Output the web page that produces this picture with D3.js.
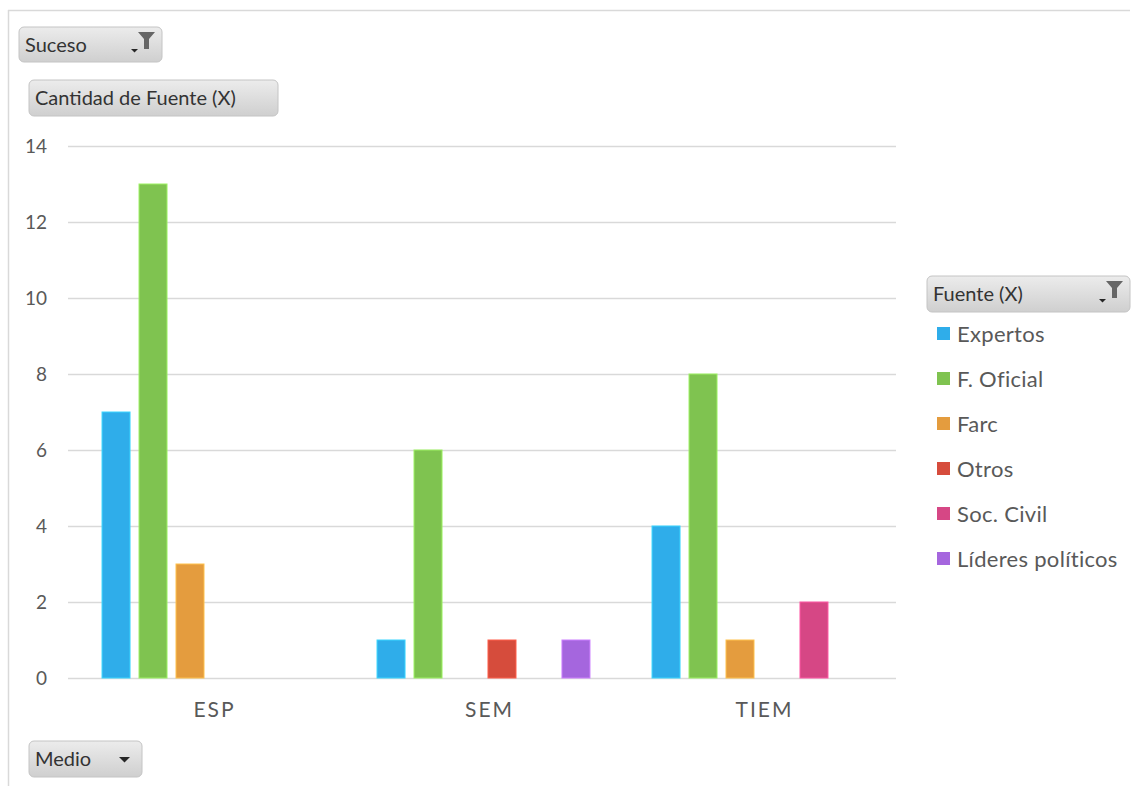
<!DOCTYPE html>
<html>
<head>
<meta charset="utf-8">
<script src="https://cdn.jsdelivr.net/npm/d3@7"></script>
<style>
  html, body { margin: 0; padding: 0; background: #fff; }
  body { width: 1138px; height: 786px; overflow: hidden; font-family: Lato, "Open Sans", sans-serif; }
  .grid line { stroke: #d9d9d9; stroke-width: 1.3; }
  .tick-label { fill: #595959; font-size: 19px; }
  .cat-label { fill: #595959; font-size: 21px; letter-spacing: 2px; }
  .legend-label { fill: #595959; font-size: 22px; letter-spacing: 0.3px; }
  .btn-text { fill: #333; font-size: 20px; }
</style>
</head>
<body>
<div id="chart"></div>
<script>
const W = 1138;
const H = 786;
const MARGIN = { top: 146, right: 242, bottom: 108, left: 71 };

const CATEGORIES = ["ESP", "SEM", "TIEM"];
const SERIES = ["Expertos", "F. Oficial", "Farc", "Otros", "Soc. Civil", "Líderes políticos"];
const COLORS = ["#2fadea", "#7fc350", "#e49c3e", "#d64c3c", "#d64785", "#a566de"];
// one value per category for each series (null = no bar)
const EXPERTOS = [7, 1, 4];
const F_OFICIAL = [13, 6, 8];
const FARC = [3, null, 1];
const OTROS = [null, 1, null];
const SOC_CIVIL = [null, null, 2];
const LIDERES = [null, 1, null];
const Y_TICKS = [0, 2, 4, 6, 8, 10, 12, 14];

const seriesValues = [EXPERTOS, F_OFICIAL, FARC, OTROS, SOC_CIVIL, LIDERES];

const svg = d3.select("#chart").append("svg").attr("width", W).attr("height", H);

// outer frame (top + left edges visible)
svg.append("line").attr("x1", 8).attr("x2", W - 8).attr("y1", 10.5).attr("y2", 10.5).attr("stroke", "#d9d9d9").attr("stroke-width", 1.5);
svg.append("line").attr("x1", 8.5).attr("x2", 8.5).attr("y1", 10).attr("y2", H).attr("stroke", "#d9d9d9").attr("stroke-width", 1.5);

const plotLeft = 68;
const plotRight = W - MARGIN.right;
const y = d3.scaleLinear().domain([0, 14]).range([H - MARGIN.bottom, MARGIN.top]);
const x0 = d3.scaleBand().domain(CATEGORIES).range([MARGIN.left, plotRight]).padding(0);
const groupW = x0.bandwidth() * 0.807;
const x1 = d3.scaleBand().domain(SERIES).range([0, groupW]).paddingInner(0.243).paddingOuter(0.1215);
const color = d3.scaleOrdinal().domain(SERIES).range(COLORS);

const grid = svg.append("g").attr("class", "grid");
grid.selectAll("line").data(Y_TICKS).enter().append("line")
  .attr("x1", plotLeft).attr("x2", plotRight)
  .attr("y1", (d) => Math.round(y(d)) + 0.5).attr("y2", (d) => Math.round(y(d)) + 0.5);

svg.append("g").selectAll("text").data(Y_TICKS).enter().append("text")
  .attr("class", "tick-label")
  .attr("x", 47).attr("y", (d) => y(d) + 7)
  .attr("text-anchor", "end")
  .text((d) => d);

const rows = [];
CATEGORIES.forEach((cat, ci) => {
  SERIES.forEach((s, si) => {
    const v = seriesValues[si][ci];
    if (v != null) rows.push({ cat, s, v });
  });
});

svg.append("g").selectAll("rect").data(rows).enter().append("rect")
  .attr("x", (d) => x0(d.cat) + (x0.bandwidth() - groupW) / 2 + x1(d.s))
  .attr("width", x1.bandwidth())
  .attr("y", (d) => y(d.v))
  .attr("height", (d) => y(0) - y(d.v))
  .attr("fill", (d) => color(d.s))
  .attr("stroke", (d) => d3.color(color(d.s)).brighter(0.6))
  .attr("stroke-width", 1);

svg.append("g").selectAll("text").data(CATEGORIES).enter().append("text")
  .attr("class", "cat-label")
  .attr("x", (d) => x0(d) + x0.bandwidth() / 2 + 6)
  .attr("y", 717)
  .attr("text-anchor", "middle")
  .text((d) => d);

// pivot-style field buttons
const defs = svg.append("defs");
const grad = defs.append("linearGradient").attr("id", "btnGrad").attr("x1", 0).attr("x2", 0).attr("y1", 0).attr("y2", 1);
grad.append("stop").attr("offset", "0%").attr("stop-color", "#ececec");
grad.append("stop").attr("offset", "100%").attr("stop-color", "#cfcfcf");

function button(x, yy, w, h, label, icon) {
  const g = svg.append("g").attr("transform", `translate(${x},${yy})`);
  g.append("rect").attr("width", w).attr("height", h).attr("rx", 5)
    .attr("fill", "url(#btnGrad)").attr("stroke", "#c4c4c4");
  g.append("text").attr("class", "btn-text").attr("x", 6).attr("y", h / 2 + 7).text(label);
  if (icon === "filter") {
    g.append("path").attr("d", `M${w - 24},${5} h17 l-6,7 v10 h-5 v-10 z`).attr("fill", "#666");
    g.append("path").attr("d", `M${w - 31},${h - 13} h7 l-3.5,3.5 z`).attr("fill", "#262626");
  } else if (icon === "down") {
    g.append("path").attr("d", `M${w - 23},${h / 2 - 2} h11 l-5.5,5.5 z`).attr("fill", "#262626");
  }
}

button(19, 27, 143, 35, "Suceso", "filter");
button(29, 80, 249, 36, "Cantidad de Fuente (X)", null);
button(29, 741, 113, 36, "Medio", "down");
button(927, 276, 203, 36, "Fuente (X)", "filter");

const legend = svg.append("g").selectAll("g").data(SERIES).enter().append("g")
  .attr("transform", (d, i) => `translate(937,${334 + i * 45})`);
legend.append("rect").attr("x", 0).attr("y", -7).attr("width", 13).attr("height", 13).attr("fill", (d) => color(d));
legend.append("text").attr("class", "legend-label").attr("x", 20).attr("y", 8).text((d) => d);
</script>
</body>
</html>
